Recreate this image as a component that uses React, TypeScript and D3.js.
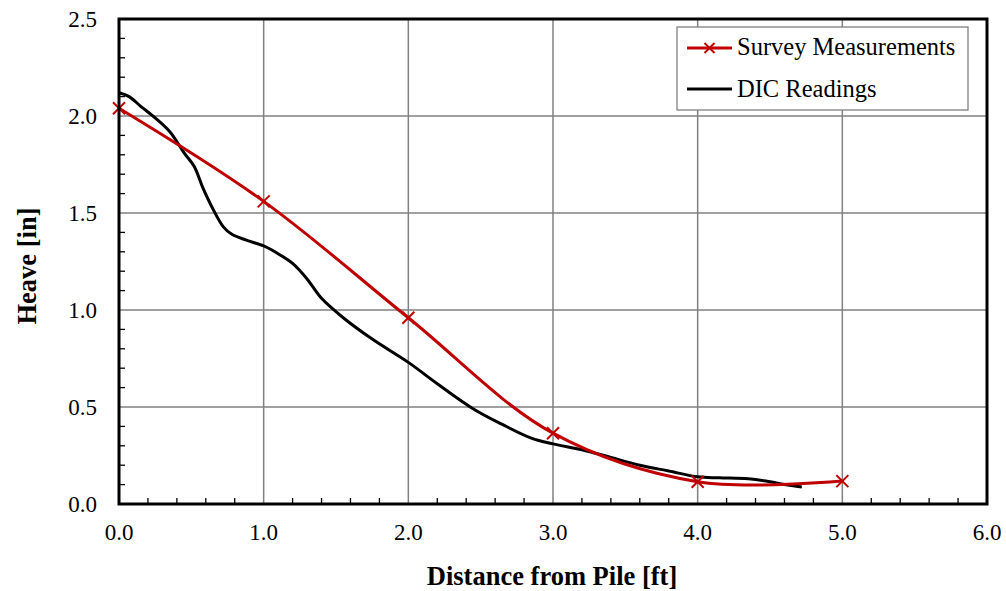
import React from "react";
import * as d3 from "d3";

const surveyX = [0, 1, 2, 3, 4, 5];
const surveyY = [2.04, 1.56, 0.96, 0.365, 0.115, 0.118];

const dicX = [0, 0.07, 0.15, 0.25, 0.35, 0.45, 0.52, 0.58, 0.65, 0.72, 0.78, 0.88, 1.0, 1.1, 1.2, 1.3, 1.4, 1.55, 1.75, 2.0, 2.2, 2.45, 2.65, 2.85, 3.0, 3.2, 3.4, 3.6, 3.8, 4.0, 4.15, 4.35, 4.5, 4.6, 4.72];
const dicY = [2.12, 2.1, 2.05, 1.99, 1.92, 1.81, 1.74, 1.63, 1.52, 1.43, 1.39, 1.36, 1.33, 1.29, 1.24, 1.16, 1.06, 0.96, 0.85, 0.73, 0.62, 0.49, 0.41, 0.34, 0.31, 0.28, 0.24, 0.2, 0.17, 0.14, 0.135, 0.13, 0.115, 0.1, 0.088];

const xTicks = [0, 1, 2, 3, 4, 5, 6];
const yTicks = [0, 0.5, 1.0, 1.5, 2.0, 2.5];
const legendLabels = ["Survey Measurements", "DIC Readings"];
const xTitle = "Distance from Pile [ft]";
const yTitle = "Heave [in]";

export default function App() {
  const L = 119, R = 987, T = 19, B = 504;
  const x = d3.scaleLinear().domain([0, 6]).range([L, R]);
  const y = d3.scaleLinear().domain([0, 2.5]).range([B, T]);
  const font = "'Liberation Serif', 'Times New Roman', serif";

  const xMinor = d3.range(0, 30).map((i) => i * 0.2).filter((v) => Math.abs(v - Math.round(v)) > 1e-6);
  const yMinor = d3.range(0, 25).map((i) => i * 0.1).filter((v) => Math.abs(v * 2 - Math.round(v * 2)) > 1e-6);

  const line = d3
    .line<[number, number]>()
    .x((d) => x(d[0]))
    .y((d) => y(d[1]))
    .curve(d3.curveCatmullRom.alpha(0.5));

  const survey: [number, number][] = surveyX.map((v, i) => [v, surveyY[i]]);
  const dic: [number, number][] = dicX.map((v, i) => [v, dicY[i]]);
  const red = "#C00000";
  const ms = 6;

  return (
    <svg width={1006} height={591} style={{ position: "absolute", left: 0, top: 0, background: "#fff" }}>
      {/* grid */}
      {xTicks.slice(1, -1).map((t) => (
        <line key={"gx" + t} x1={x(t)} x2={x(t)} y1={T} y2={B} stroke="#808080" strokeWidth={1.5} />
      ))}
      {yTicks.slice(1, -1).map((t) => (
        <line key={"gy" + t} x1={L} x2={R} y1={y(t)} y2={y(t)} stroke="#808080" strokeWidth={1.5} />
      ))}
      {/* minor ticks */}
      {xMinor.map((t) => (
        <line key={"mx" + t} x1={x(t)} x2={x(t)} y1={B} y2={B - 6} stroke="#000" strokeWidth={1.3} />
      ))}
      {yMinor.map((t) => (
        <line key={"my" + t} x1={L} x2={L + 6} y1={y(t)} y2={y(t)} stroke="#000" strokeWidth={1.3} />
      ))}
      {/* DIC line */}
      <path d={line(dic) || ""} fill="none" stroke="#000" strokeWidth={3} />
      {/* Survey line */}
      <path d={line(survey) || ""} fill="none" stroke={red} strokeWidth={3} />
      {survey.map((d, i) => (
        <g key={"m" + i} stroke={red} strokeWidth={2}>
          <line x1={x(d[0]) - ms} x2={x(d[0]) + ms} y1={y(d[1]) - ms} y2={y(d[1]) + ms} />
          <line x1={x(d[0]) - ms} x2={x(d[0]) + ms} y1={y(d[1]) + ms} y2={y(d[1]) - ms} />
        </g>
      ))}
      {/* frame */}
      <rect x={L} y={T} width={R - L} height={B - T} fill="none" stroke="#000" strokeWidth={3} />
      {/* tick labels */}
      {xTicks.map((t) => (
        <text key={"xl" + t} x={x(t)} y={540} textAnchor="middle" fontFamily={font} fontSize={23} fill="#000">
          {t.toFixed(1)}
        </text>
      ))}
      {yTicks.map((t) => (
        <text key={"yl" + t} x={97} y={y(t) + 8} textAnchor="end" fontFamily={font} fontSize={23} fill="#000">
          {t.toFixed(1)}
        </text>
      ))}
      {/* axis titles */}
      <text x={552} y={585} textAnchor="middle" fontFamily={font} fontSize={26.5} fontWeight="bold">
        {xTitle}
      </text>
      <text
        transform={`translate(36, 266) rotate(-90)`}
        textAnchor="middle"
        fontFamily={font}
        fontSize={26.5}
        fontWeight="bold"
      >
        {yTitle}
      </text>
      {/* legend */}
      <rect x={677} y={27} width={291} height={83} fill="#fff" stroke="#808080" strokeWidth={1.3} />
      <line x1={687} x2={732} y1={48} y2={48} stroke={red} strokeWidth={3} />
      <g stroke={red} strokeWidth={2}>
        <line x1={709.5 - 5} x2={709.5 + 5} y1={43} y2={53} />
        <line x1={709.5 - 5} x2={709.5 + 5} y1={53} y2={43} />
      </g>
      <text x={737} y={55} fontFamily={font} fontSize={24.5}>
        {legendLabels[0]}
      </text>
      <line x1={687} x2={732} y1={89} y2={89} stroke="#000" strokeWidth={3} />
      <text x={737} y={97} fontFamily={font} fontSize={24.5}>
        {legendLabels[1]}
      </text>
    </svg>
  );
}
